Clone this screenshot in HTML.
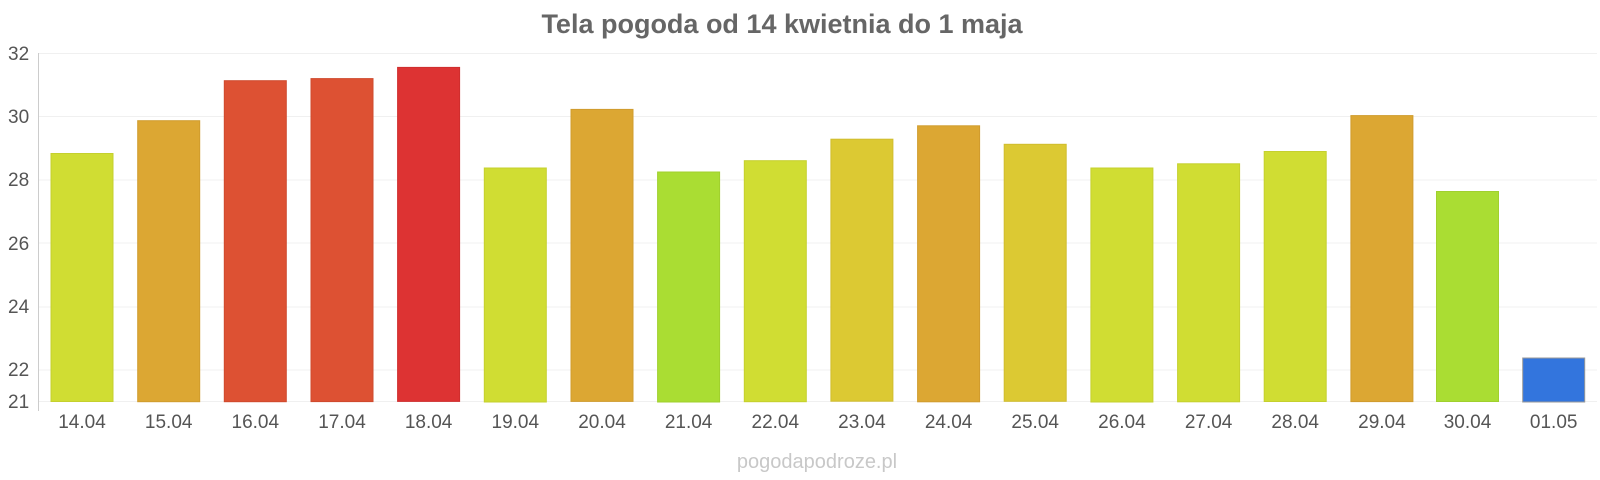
<!DOCTYPE html>
<html><head><meta charset="utf-8"><style>
html,body{margin:0;padding:0;background:#fff;}
svg{display:block;font-family:"Liberation Sans",sans-serif;}
</style></head><body>
<svg width="1600" height="480" xmlns="http://www.w3.org/2000/svg">
<text x="782" y="33" text-anchor="middle" font-size="27" font-weight="bold" fill="#666">Tela pogoda od 14 kwietnia do 1 maja</text>
<g stroke="#f0f0f0" stroke-width="1">
<line x1="38" x2="1597" y1="53.5" y2="53.5"/>
<line x1="38" x2="1597" y1="116.5" y2="116.5"/>
<line x1="38" x2="1597" y1="180" y2="180"/>
<line x1="38" x2="1597" y1="243" y2="243"/>
<line x1="38" x2="1597" y1="307" y2="307"/>
<line x1="38" x2="1597" y1="370" y2="370"/>
<line x1="38" x2="1597" y1="401.5" y2="401.5"/>
</g>
<line x1="38.5" x2="38.5" y1="53" y2="411" stroke="#ccc"/>
<g font-size="19" fill="#555">
<text x="8" y="60">32</text>
<text x="8" y="123">30</text>
<text x="8" y="186">28</text>
<text x="8" y="250">26</text>
<text x="8" y="313">24</text>
<text x="8" y="376">22</text>
<text x="8" y="408">21</text>
</g>
<g stroke-width="1">
<rect x="51" y="153.5" width="62" height="248" fill="#d0dd33" stroke="#c5d02e"/>
<rect x="137.7" y="120.7" width="62" height="281" fill="#dca733" stroke="#d09c2e"/>
<rect x="224.3" y="80.7" width="62" height="321" fill="#dd5133" stroke="#cf4a2e"/>
<rect x="311" y="78.6" width="62" height="323" fill="#dd5133" stroke="#cf4a2e"/>
<rect x="397.6" y="67.4" width="62" height="334" fill="#dd3333" stroke="#cf2e2e"/>
<rect x="484.3" y="168" width="62" height="234" fill="#d0dd33" stroke="#c5d02e"/>
<rect x="571" y="109.4" width="62" height="292" fill="#dca733" stroke="#d09c2e"/>
<rect x="657.6" y="172" width="62" height="230" fill="#aadd33" stroke="#a0d02e"/>
<rect x="744.3" y="160.7" width="62" height="241" fill="#d0dd33" stroke="#c5d02e"/>
<rect x="830.9" y="139.2" width="62" height="262" fill="#dcc933" stroke="#d0bd2e"/>
<rect x="917.6" y="125.8" width="62" height="276" fill="#dca733" stroke="#d09c2e"/>
<rect x="1004.2" y="144.3" width="62" height="257" fill="#dcc933" stroke="#d0bd2e"/>
<rect x="1090.9" y="168" width="62" height="234" fill="#d0dd33" stroke="#c5d02e"/>
<rect x="1177.6" y="163.8" width="62" height="238" fill="#d0dd33" stroke="#c5d02e"/>
<rect x="1264.2" y="151.5" width="62" height="250" fill="#d0dd33" stroke="#c5d02e"/>
<rect x="1350.9" y="115.6" width="62" height="286" fill="#dca733" stroke="#d09c2e"/>
<rect x="1436.5" y="191.5" width="62" height="210" fill="#aadd33" stroke="#a0d02e"/>
<rect x="1522.7" y="358" width="62" height="44" fill="#3375dd" stroke="#999"/>
</g>
<g font-size="19" fill="#555" text-anchor="middle">
<text x="82" y="428">14.04</text>
<text x="168.7" y="428">15.04</text>
<text x="255.3" y="428">16.04</text>
<text x="342" y="428">17.04</text>
<text x="428.6" y="428">18.04</text>
<text x="515.3" y="428">19.04</text>
<text x="602" y="428">20.04</text>
<text x="688.6" y="428">21.04</text>
<text x="775.3" y="428">22.04</text>
<text x="861.9" y="428">23.04</text>
<text x="948.6" y="428">24.04</text>
<text x="1035.2" y="428">25.04</text>
<text x="1121.9" y="428">26.04</text>
<text x="1208.6" y="428">27.04</text>
<text x="1295.2" y="428">28.04</text>
<text x="1381.9" y="428">29.04</text>
<text x="1467.5" y="428">30.04</text>
<text x="1553.7" y="428">01.05</text>
</g>
<text x="817" y="468" text-anchor="middle" font-size="20" fill="#c8c8c8">pogodapodroze.pl</text>
</svg>
</body></html>
